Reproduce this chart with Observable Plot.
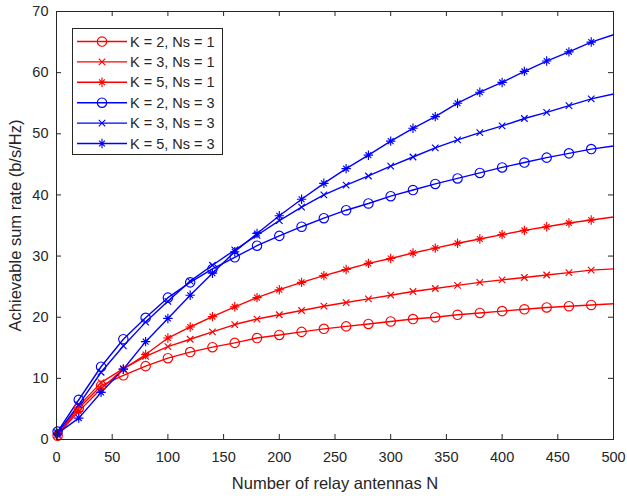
<!DOCTYPE html>
<html>
<head>
<meta charset="utf-8">
<script src="https://cdn.jsdelivr.net/npm/d3@7"></script>
<script src="https://cdn.jsdelivr.net/npm/@observablehq/plot@0.6"></script>
<style>
  html, body { margin: 0; padding: 0; background: #fff; }
  #chart { width: 627px; height: 496px; }
</style>
</head>
<body>
<div id="chart"></div>
<script>
// ---- data ----
const relayN = [1, 20, 40, 60, 80, 100, 120, 140, 160, 180, 200, 220, 240, 260, 280, 300, 320, 340, 360, 380, 400, 420, 440, 460, 480, 500];
const rateK2Ns1 = [0.6, 5.1, 8.8, 10.5, 12.0, 13.3, 14.3, 15.1, 15.8, 16.6, 17.1, 17.6, 18.1, 18.5, 18.9, 19.3, 19.7, 20.0, 20.4, 20.7, 21.0, 21.3, 21.6, 21.8, 22.0, 22.2];
const rateK3Ns1 = [0.7, 5.5, 9.3, 11.6, 13.6, 15.2, 16.4, 17.6, 18.8, 19.7, 20.4, 21.1, 21.8, 22.4, 23.0, 23.6, 24.2, 24.7, 25.2, 25.7, 26.1, 26.5, 26.9, 27.3, 27.7, 27.9];
const rateK5Ns1 = [0.8, 4.6, 8.3, 11.5, 13.9, 16.6, 18.4, 20.1, 21.7, 23.2, 24.5, 25.7, 26.8, 27.8, 28.8, 29.6, 30.5, 31.3, 32.1, 32.8, 33.5, 34.2, 34.8, 35.4, 35.9, 36.4];
const rateK2Ns3 = [1.3, 6.5, 11.9, 16.4, 19.9, 23.2, 25.7, 27.9, 29.8, 31.7, 33.3, 34.8, 36.2, 37.5, 38.6, 39.8, 40.8, 41.8, 42.7, 43.6, 44.5, 45.3, 46.1, 46.8, 47.5, 48.0];
const rateK3Ns3 = [1.1, 5.7, 11.0, 15.3, 19.2, 22.6, 25.9, 28.5, 31.0, 33.4, 35.8, 38.0, 40.0, 41.6, 43.1, 44.7, 46.2, 47.7, 49.0, 50.2, 51.3, 52.5, 53.5, 54.6, 55.7, 56.5];
const rateK5Ns3 = [1.0, 3.5, 7.7, 11.5, 16.0, 19.8, 23.6, 27.2, 30.7, 33.7, 36.6, 39.3, 41.9, 44.3, 46.5, 48.8, 50.9, 52.8, 55.0, 56.8, 58.4, 60.2, 61.9, 63.4, 65.0, 66.2];
const markerMaxN = 480; // last point (N = 500) drawn without a marker

const seriesNames = ["K = 2, Ns = 1", "K = 3, Ns = 1", "K = 5, Ns = 1", "K = 2, Ns = 3", "K = 3, Ns = 3", "K = 5, Ns = 3"];
const seriesValues = [rateK2Ns1, rateK3Ns1, rateK5Ns1, rateK2Ns3, rateK3Ns3, rateK5Ns3];
const seriesColors = ["#ff0000", "#ff0000", "#ff0000", "#0000ff", "#0000ff", "#0000ff"];
const seriesMarkers = ["circle", "times", "asterisk", "circle", "times", "asterisk"];

const xTicks = [0, 50, 100, 150, 200, 250, 300, 350, 400, 450, 500];
const yTicks = [0, 10, 20, 30, 40, 50, 60, 70];
const xLabel = "Number of relay antennas N";
const yLabel = "Achievable sum rate (b/s/Hz)";

// ---- symbols (MATLAB-like) ----
const symTimes = {
  draw(ctx, size) {
    const a = Math.sqrt(size / Math.PI) * 0.7071;
    ctx.moveTo(-a, -a); ctx.lineTo(a, a);
    ctx.moveTo(-a, a); ctx.lineTo(a, -a);
  }
};
const symAsterisk = {
  draw(ctx, size) {
    const r = Math.sqrt(size / Math.PI);
    const d = r * 0.62;
    ctx.moveTo(0, -r); ctx.lineTo(0, r);
    ctx.moveTo(-r, 0); ctx.lineTo(r, 0);
    ctx.moveTo(-d, -d); ctx.lineTo(d, d);
    ctx.moveTo(-d, d); ctx.lineTo(d, -d);
  }
};
const symCircle = {
  draw(ctx, size) {
    const r = Math.sqrt(size / Math.PI);
    ctx.moveTo(r, 0); ctx.arc(0, 0, r, 0, 2 * Math.PI);
  }
};
const symbolOf = {circle: symCircle, times: symTimes, asterisk: symAsterisk};
const radiusOf = {circle: 4.7, times: 4.6, asterisk: 4.7};

// ---- table ----
const rows = [];
seriesNames.forEach((name, i) => {
  relayN.forEach((n, j) => rows.push({series: name, n, rate: seriesValues[i][j], marker: seriesMarkers[i]}));
});
const markerRows = rows.filter(d => d.n <= markerMaxN);

const W = 627, H = 496;
const mL = 56, mR = 14, mT = 11, mB = 57;
const innerH = H - mT - mB, innerW = W - mL - mR;
const tickLen = 5;
const ink = "#262626";

const chart = Plot.plot({
  width: W, height: H,
  marginLeft: mL, marginRight: mR, marginTop: mT, marginBottom: mB,
  style: {fontFamily: "'Liberation Sans', Arial, sans-serif", fontSize: "14px", color: ink, background: "white"},
  x: {domain: [0, 500]},
  y: {domain: [0, 70]},
  color: {domain: seriesNames, range: seriesColors},
  marks: [
    // inward ticks on four sides
    Plot.tickX(xTicks, {x: d => d, insetTop: innerH - tickLen, stroke: ink, strokeWidth: 1}),
    Plot.tickX(xTicks, {x: d => d, insetBottom: innerH - tickLen, stroke: ink, strokeWidth: 1}),
    Plot.tickY(yTicks, {y: d => d, insetRight: innerW - tickLen, stroke: ink, strokeWidth: 1}),
    Plot.tickY(yTicks, {y: d => d, insetLeft: innerW - tickLen, stroke: ink, strokeWidth: 1}),
    Plot.axisX({ticks: xTicks, tickSize: 0, tickPadding: 12, fontSize: 14.5, fill: ink,
      label: xLabel, labelAnchor: "center", labelArrow: "none", labelOffset: 49}),
    Plot.axisY({ticks: yTicks, tickSize: 0, tickPadding: 8, fontSize: 14.5, fill: ink,
      label: yLabel, labelAnchor: "center", labelArrow: "none", labelOffset: 47}),
    Plot.line(rows, {x: "n", y: "rate", z: "series", stroke: "series", strokeWidth: 1.4}),
    ...seriesMarkers.map((m, i) => Plot.dot(markerRows.filter(d => d.series === seriesNames[i]), {
      x: "n", y: "rate", stroke: "series", fill: "none", symbol: symbolOf[m], r: radiusOf[m], strokeWidth: 1.15
    })),
    Plot.frame({stroke: ink, strokeWidth: 1})
  ]
});
document.getElementById("chart").appendChild(chart);

const svg = d3.select(chart);
// axis titles slightly larger than tick labels (MATLAB style)
svg.selectAll("g[aria-label='x-axis label'], g[aria-label='y-axis label']")
  .attr("font-size", "16.5px").selectAll("text").style("font-size", "16.5px");

// ---- legend (inside the plot, top-left) ----
const lg = svg.append("g").attr("class", "legend").attr("text-anchor", "start");
const box = {x: 72.5, y: 28.5, w: 150, h: 126};
lg.append("rect").attr("x", box.x).attr("y", box.y).attr("width", box.w).attr("height", box.h)
  .attr("fill", "white").attr("stroke", ink).attr("stroke-width", 1);
seriesNames.forEach((name, i) => {
  const cy = 41.5 + i * 20.4;
  const col = seriesColors[i];
  lg.append("line").attr("x1", 77).attr("x2", 127).attr("y1", cy).attr("y2", cy)
    .attr("stroke", col).attr("stroke-width", 1.4);
  const r = radiusOf[seriesMarkers[i]];
  lg.append("path").attr("transform", `translate(102,${cy})`)
    .attr("d", d3.symbol(symbolOf[seriesMarkers[i]], r * r * Math.PI)())
    .attr("fill", "none").attr("stroke", col).attr("stroke-width", 1.15);
  lg.append("text").attr("x", 130).attr("y", cy).attr("dy", "0.35em")
    .attr("text-anchor", "start")
    .attr("fill", ink).style("font-size", "14.5px").text(name);
});
</script>
</body>
</html>
